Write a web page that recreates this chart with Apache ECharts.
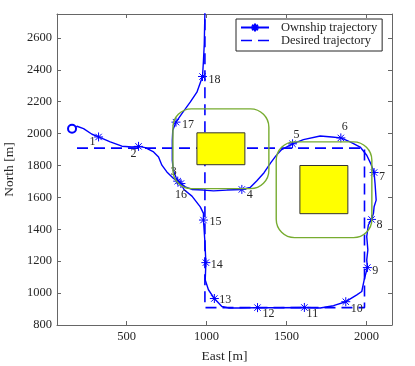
<!DOCTYPE html>
<html>
<head>
<meta charset="utf-8">
<script src="https://cdn.jsdelivr.net/npm/echarts@6/dist/echarts.min.js"></script>
<style>
  html, body { margin: 0; padding: 0; background: #fff; }
  #chart { width: 415px; height: 366px; }
</style>
</head>
<body>
<div id="chart"></div>
<script>
// ownship track, [east, north, waypoint label] ('' = plain point)
const ownship = [
  [159, 2031, ''], [190, 2046, ''], [231, 2031, ''], [284, 1996, ''],
  [325, 1979, '1'], [398, 1948, ''], [471, 1921, ''], [534, 1916, ''],
  [575, 1920, '2'], [617, 1912, ''], [669, 1885, ''], [700, 1854, ''],
  [721, 1802, ''], [752, 1760, ''], [794, 1719, ''],
  [820, 1702, '3'], [867, 1666, ''], [909, 1650, ''], [981, 1646, ''],
  [1044, 1641, ''], [1127, 1646, ''],
  [1221, 1650, '4'], [1273, 1662, ''], [1315, 1705, ''], [1360, 1755, ''],
  [1400, 1815, ''], [1435, 1862, ''], [1470, 1900, ''],
  [1538, 1936, '5'], [1606, 1962, ''], [1711, 1985, ''], [1784, 1979, ''],
  [1840, 1973, '6'], [1898, 1948, ''], [1961, 1916, ''], [2002, 1864, ''],
  [2027, 1812, ''],
  [2048, 1756, '7'], [2054, 1687, ''], [2061, 1583, ''], [2048, 1541, ''],
  [2044, 1500, ''],
  [2032, 1462, '8'], [2012, 1427, ''], [2002, 1354, ''], [2009, 1271, ''],
  [2002, 1208, ''],
  [2006, 1160, '9'], [1986, 1083, ''], [1971, 1010, ''], [1940, 989, ''],
  [1871, 946, '10'], [1794, 921, ''], [1711, 907, ''],
  [1612, 910, '11'], [1450, 908, ''],
  [1319, 909, '12'], [1200, 907, ''], [1137, 907, ''], [1096, 916, ''],
  [1049, 966, '13'], [1012, 1021, ''], [992, 1083, ''],
  [996, 1191, '14'], [990, 1320, ''],
  [981, 1458, '15'], [981, 1500, ''], [961, 1541, ''], [909, 1608, ''],
  [860, 1648, ''],
  [840, 1687, '16'], [811, 1721, ''], [792, 1771, ''], [786, 1833, ''],
  [786, 1958, ''], [789, 2021, ''],
  [809, 2072, '17'], [846, 2125, ''], [898, 2197, ''], [940, 2260, ''],
  [975, 2358, '18'], [981, 2458, ''], [986, 2562, ''], [988, 2666, ''],
  [990, 2760, '']
];

// desired path corners [east, north]
const desired = [[190, 1909], [1988, 1909], [1988, 909], [990, 909], [990, 2760]];

// obstacles and their safety zones, [east1, north1, east2, north2]
const obstacles = [[940, 1805, 1240, 2005], [1584, 1498, 1884, 1800]];
const safetyZones = [[790, 1655, 1390, 2155], [1436, 1348, 2034, 1948]];
const zoneCornerRadius = 115;

const xTicks = [500, 1000, 1500, 2000];
const yTicks = [800, 1000, 1200, 1400, 1600, 1800, 2000, 2200, 2400, 2600];

// where each waypoint number sits relative to its star (px)
const labelOffsets = {
  '1': [-6, 5], '2': [-5, 7], '3': [-4, -9], '4': [8, 5], '5': [4, -9],
  '6': [4, -11], '7': [8, 4], '8': [8, 5], '9': [8, 3], '10': [11, 7],
  '11': [8, 6], '12': [11, 6], '13': [11, 1], '14': [11, 2], '15': [12, 2],
  '16': [0, 11], '17': [12, 3], '18': [12, 3]
};

const serif = "'Liberation Serif', 'DejaVu Serif', serif";
const axisColor = '#666';
const textColor = '#262626';
const star = 'path://M0,-10L0,10M-10,0L10,0M-7.07,-7.07L7.07,7.07M-7.07,7.07L7.07,-7.07';
const dashIcon = 'path://M0,0H11V1.6H0Z M17,0H28V1.6H17Z';

function boxRenderer(style, radius) {
  return function (params, api) {
    const topLeft = api.coord([api.value(0), api.value(3)]);
    const bottomRight = api.coord([api.value(2), api.value(1)]);
    const r = radius ? api.size([radius, radius])[0] : 0;
    return {
      type: 'rect',
      shape: {
        x: topLeft[0],
        y: topLeft[1],
        width: bottomRight[0] - topLeft[0],
        height: bottomRight[1] - topLeft[1],
        r: r
      },
      style: style
    };
  };
}

function axisPair(ticks, min, max) {
  const main = {
    type: 'value',
    min: min,
    max: max,
    axisLine: { show: true, onZero: false, lineStyle: { color: axisColor, width: 1 } },
    axisTick: { show: true, inside: true, length: 4, customValues: ticks, lineStyle: { color: axisColor } },
    axisLabel: {
      customValues: ticks,
      formatter: (v) => String(v),
      margin: 5,
      color: textColor,
      fontFamily: serif,
      fontSize: 12.5
    },
    splitLine: { show: false }
  };
  const mirror = {
    type: 'value',
    min: min,
    max: max,
    axisLine: { show: true, onZero: false, lineStyle: { color: axisColor, width: 1 } },
    axisTick: { show: true, inside: true, length: 4, customValues: ticks, lineStyle: { color: axisColor } },
    axisLabel: { show: false },
    splitLine: { show: false }
  };
  return [main, mirror];
}

const chart = echarts.init(document.getElementById('chart'), null, { renderer: 'canvas' });

const xAxes = axisPair(xTicks, 65, 2160);
xAxes[0].position = 'bottom';
xAxes[0].name = 'East [m]';
xAxes[0].nameLocation = 'middle';
xAxes[0].nameGap = 24;
xAxes[0].nameTextStyle = { color: textColor, fontFamily: serif, fontSize: 13.5 };
xAxes[1].position = 'top';

const yAxes = axisPair(yTicks, 800, 2750);
yAxes[0].position = 'left';
yAxes[0].name = 'North [m]';
yAxes[0].nameLocation = 'middle';
yAxes[0].nameGap = 38;
yAxes[0].nameTextStyle = { color: textColor, fontFamily: serif, fontSize: 13.5 };
yAxes[1].position = 'right';

const ownshipData = ownship.map(function ([east, north, tag], i) {
  const item = { value: [east, north] };
  if (i === 0) {
    item.symbol = 'emptyCircle';
    item.symbolSize = 8;
  } else if (tag) {
    item.label = { show: true, formatter: tag, offset: labelOffsets[tag] };
  } else {
    item.symbol = 'none';
  }
  return item;
});

chart.setOption({
  animation: false,
  backgroundColor: '#fff',
  grid: { left: 57, right: 23, top: 14, bottom: 41, outerBoundsMode: 'none' },
  xAxis: xAxes,
  yAxis: yAxes,
  legend: {
    data: ['Ownship trajectory', { name: 'Desired trajectory', icon: dashIcon }],
    orient: 'vertical',
    left: 236,
    top: 19,
    padding: [2, 5, 4, 4],
    itemGap: 0,
    itemWidth: 28,
    itemHeight: 10,
    backgroundColor: '#fff',
    borderColor: '#262626',
    borderWidth: 1,
    borderRadius: 0,
    selectedMode: false,
    textStyle: { color: textColor, fontFamily: serif, fontSize: 12.5, lineHeight: 13, padding: [0, 0, 0, 7] }
  },
  series: [
    {
      name: 'Desired trajectory',
      type: 'line',
      data: desired,
      symbol: 'none',
      z: 2,
      color: '#0000ff',
      lineStyle: { color: '#0000ff', width: 1.6, type: [11, 6] }
    },
    {
      name: 'Ownship trajectory',
      type: 'line',
      data: ownshipData,
      symbol: star,
      symbolSize: 9,
      showSymbol: true,
      z: 3,
      color: '#0000ff',
      itemStyle: { color: '#0000ff', borderColor: '#0000ff', borderWidth: 1 },
      lineStyle: { color: '#0000ff', width: 1.4 },
      label: { position: 'inside', color: textColor, fontFamily: serif, fontSize: 12 }
    },
    {
      name: 'zones',
      type: 'custom',
      z: 4,
      data: safetyZones,
      encode: { x: [0, 2], y: [1, 3] },
      renderItem: boxRenderer({ fill: 'none', stroke: '#77ac30', lineWidth: 1.4 }, zoneCornerRadius)
    },
    {
      name: 'obstacles',
      type: 'custom',
      z: 5,
      data: obstacles,
      encode: { x: [0, 2], y: [1, 3] },
      renderItem: boxRenderer({ fill: '#ffff00', stroke: '#333', lineWidth: 1 }, 0)
    }
  ]
});
</script>
</body>
</html>
